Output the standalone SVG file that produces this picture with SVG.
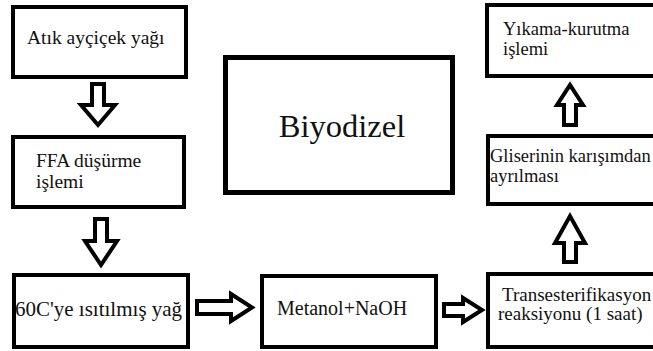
<svg xmlns="http://www.w3.org/2000/svg" width="653" height="351" viewBox="0 0 653 351">
<style>
.box{fill:#fff;stroke:#000;stroke-width:4}
.arr{fill:#fff;stroke:#000;stroke-width:4;stroke-linejoin:miter}
.t{font-family:'Liberation Serif','DejaVu Serif',serif;fill:#111}
</style>
<rect width="653" height="351" fill="#fff"/>
<g id="connectors">
<path class="arr" d="M92,84 H104 V105 H115 L98,125 L81,105 H92 Z"/>
<path class="arr" d="M95,219 H107 V241 H117 L101,265 L85,241 H95 Z"/>
<path class="arr" d="M197,301 H231 V294 L252,307.5 L231,321 V314 H197 Z"/>
<path class="arr" d="M444,304 H463 V298 L482,310 L463,322 V316 H444 Z"/>
<path class="arr" d="M564,125 V105 H557 L570,85 L583,105 H576 V125 Z"/>
<path class="arr" d="M564,262 V243 H555 L570,216 L585,243 H576 V262 Z"/>
</g>
<g id="n1"><rect class="box" x="13" y="7" width="173" height="70"/><text class="t" x="27" y="44" font-size="19.5">Atık ayçiçek yağı</text></g>
<g id="n2"><rect class="box" x="13" y="137" width="171" height="70"/><text class="t" x="36" y="167" font-size="19.5">FFA düşürme</text><text class="t" x="36" y="188" font-size="19.5">işlemi</text></g>
<g id="n3"><rect class="box" x="14" y="275" width="174" height="72"/><text class="t" x="15" y="316" font-size="21">60C'ye ısıtılmış yağ</text></g>
<g id="n4"><rect x="225.5" y="57.5" width="227" height="135" fill="#fff" stroke="#000" stroke-width="5"/><text class="t" x="342" y="137" font-size="32.5" text-anchor="middle">Biyodizel</text></g>
<g id="n5"><rect class="box" x="262" y="276" width="174" height="71"/><text class="t" x="277" y="315" font-size="20">Metanol+NaOH</text></g>
<g id="n6"><rect class="box" x="488" y="274" width="170" height="73"/><text class="t" x="502" y="301" font-size="19">Transesterifikasyon</text><text class="t" x="498" y="320" font-size="19">reaksiyonu (1 saat)</text></g>
<g id="n7"><rect class="box" x="488" y="136" width="170" height="68"/><text class="t" x="490" y="162" font-size="18.5">Gliserinin karışımdan</text><text class="t" x="490" y="182" font-size="18.5">ayrılması</text></g>
<g id="n8"><rect class="box" x="487" y="5" width="170" height="71"/><text class="t" x="503" y="35" font-size="18.5">Yıkama-kurutma</text><text class="t" x="503" y="55" font-size="18.5">işlemi</text></g>
</svg>
